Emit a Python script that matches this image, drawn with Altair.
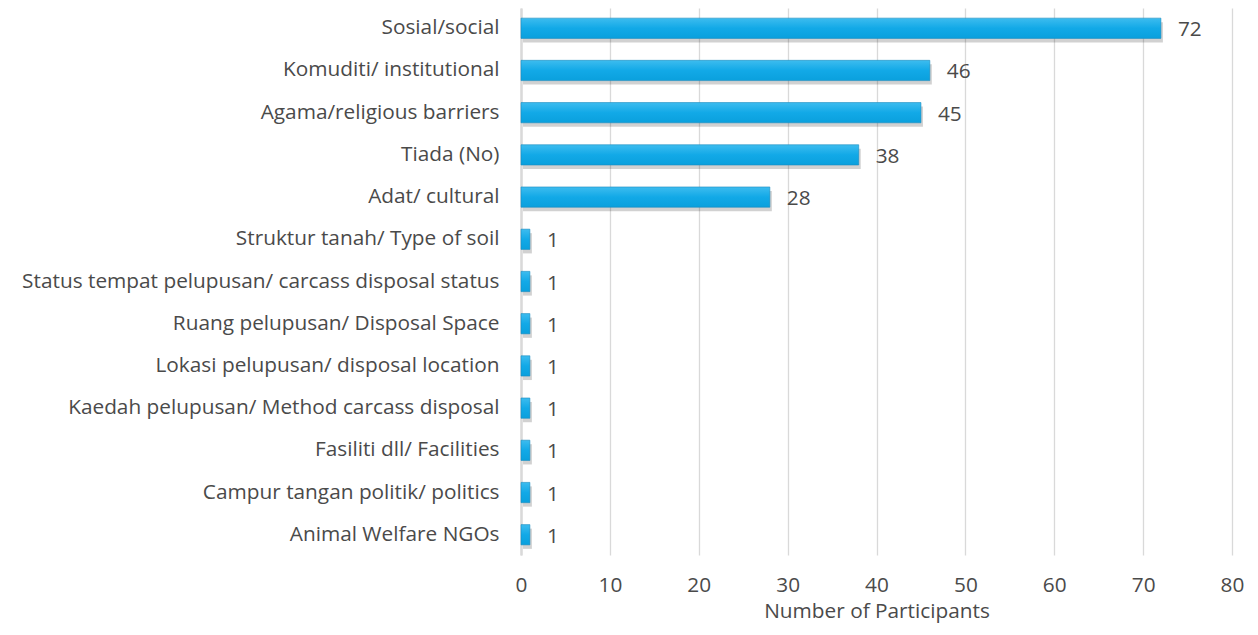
import altair as alt
import pandas as pd

categories = [
    "Sosial/social",
    "Komuditi/ institutional",
    "Agama/religious barriers",
    "Tiada (No)",
    "Adat/ cultural",
    "Struktur tanah/ Type of soil",
    "Status tempat pelupusan/ carcass disposal status",
    "Ruang pelupusan/ Disposal Space",
    "Lokasi pelupusan/ disposal location",
    "Kaedah pelupusan/ Method carcass disposal",
    "Fasiliti dll/ Facilities",
    "Campur tangan politik/ politics",
    "Animal Welfare NGOs",
]
values = [72, 46, 45, 38, 28, 1, 1, 1, 1, 1, 1, 1, 1]
x_ticks = [0, 10, 20, 30, 40, 50, 60, 70, 80]

df = pd.DataFrame({"cat": categories, "val": values})

FONT = "Open Sans"
FS = 20.8
TXT = "#4a4a4a"

y_enc = alt.Y("cat:N", sort=categories, title=None,
              scale=alt.Scale(paddingInner=0.52, paddingOuter=0.24))
x_enc = alt.X("val:Q", title="Number of Participants",
              scale=alt.Scale(domain=[0, 80], nice=False),
              axis=alt.Axis(values=x_ticks))

base = alt.Chart(df)

shadow = base.mark_bar(color="#000000", opacity=0.18, yOffset=4, xOffset=2).encode(
    x=x_enc, y=y_enc)

bars = base.mark_bar(
    color=alt.Gradient(
        gradient="linear", x1=0, x2=0, y1=0, y2=1,
        stops=[alt.GradientStop(color="#3dbcef", offset=0),
               alt.GradientStop(color="#12a9e7", offset=0.5),
               alt.GradientStop(color="#0aa0dd", offset=1)]),
    stroke="#1a8cc0", strokeWidth=0.6,
).encode(x=x_enc, y=y_enc)

labels = base.mark_text(align="left", baseline="middle", dx=17, dy=2,
                        font=FONT, fontSize=FS, color=TXT).encode(
    x=x_enc, y=y_enc, text="val:Q")

chart = (shadow + bars + labels).properties(
    width=711, height=547,
    autosize=alt.AutoSizeParams(type="none"),
    padding={"left": 513, "top": 0, "right": 18, "bottom": 72},
).configure_view(stroke=None).configure_axisX(
    grid=True, gridColor="#d9d9d9", gridWidth=1.3,
    domain=False, ticks=False, labelFlush=False,
    labelFont=FONT, labelFontSize=FS, labelColor=TXT, labelPadding=20,
    titleFont=FONT, titleFontSize=FS, titleColor=TXT, titleFontWeight="normal",
    titlePadding=7,
).configure_axisY(
    grid=False, domain=True, domainColor="#d9d9d9", domainWidth=2.5,
    ticks=False, labelFont=FONT, labelFontSize=FS, labelColor=TXT,
    labelPadding=22, labelLimit=600,
)

chart.save("out.html", embed_options={"renderer": "svg", "actions": False})
